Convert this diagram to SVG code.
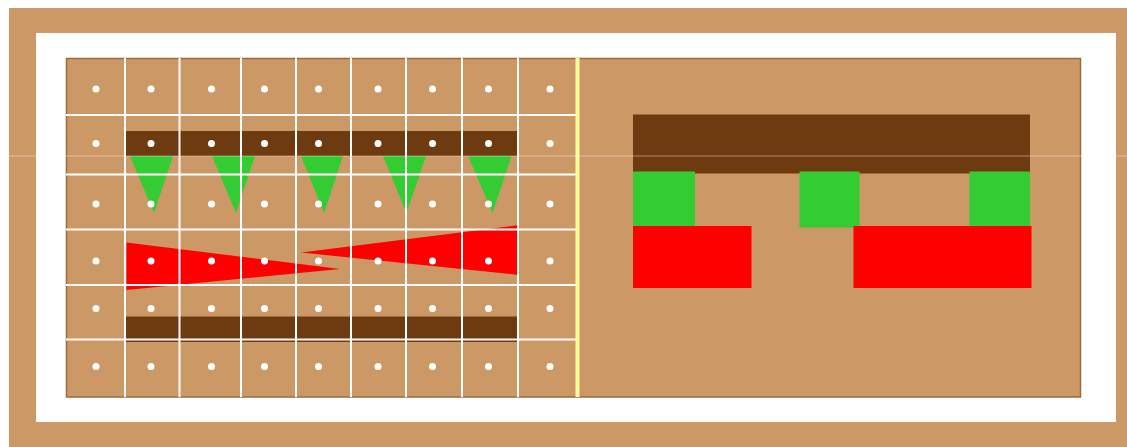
<svg xmlns="http://www.w3.org/2000/svg" width="1127" height="447" viewBox="0 0 1127 447">
<style>
.tan{fill:#CC9966}
.brown{fill:#6E3A0F}
.green{fill:#33CC33}
.red{fill:#FF0000}
.grid line{stroke:#FFFFFF;stroke-width:2}
.dots circle{fill:#FFFFFF}
</style>
<rect width="1127" height="447" fill="#FFFFFF"/>
<rect id="frame" x="9" y="8" width="1118" height="439" class="tan"/>
<rect id="mat" x="36" y="33" width="1080" height="389" fill="#FFFFFF"/>
<rect id="panel" x="66.5" y="58.5" width="1014" height="338.5" class="tan" stroke="#9C6A3C" stroke-width="1.5"/>
<g id="left-top-bar">
<rect x="126" y="131" width="391" height="25" class="brown"/>
</g>
<g id="left-green">
<polygon points="130,156 173,156 154,213" class="green"/>
<polygon points="212,156 255,156 236,213" class="green"/>
<polygon points="301,156 343,156 324,213" class="green"/>
<polygon points="383,156 426,156 406.5,213" class="green"/>
<polygon points="468,156 511.5,156 492.5,213" class="green"/>
</g>
<g id="left-red">
<polygon points="126.5,242.5 126.5,290 340,269" class="red"/>
<polygon points="519,225 519,275 301,252.5" class="red"/>
</g>
<g id="left-bottom-bar">
<rect x="126" y="316.5" width="391" height="25.5" class="brown"/>
</g>
<g id="grid" class="grid">
<line x1="125" y1="58" x2="125" y2="397"/>
<line x1="179.5" y1="58" x2="179.5" y2="397"/>
<line x1="241" y1="58" x2="241" y2="397"/>
<line x1="296" y1="58" x2="296" y2="397"/>
<line x1="351" y1="58" x2="351" y2="397"/>
<line x1="406" y1="58" x2="406" y2="397"/>
<line x1="462" y1="58" x2="462" y2="397"/>
<line x1="518" y1="58" x2="518" y2="397"/>
<line x1="66" y1="115" x2="578" y2="115"/>
<line x1="66" y1="174.5" x2="578" y2="174.5"/>
<line x1="66" y1="229.5" x2="578" y2="229.5"/>
<line x1="66" y1="285" x2="578" y2="285"/>
<line x1="66" y1="339.5" x2="578" y2="339.5"/>
</g>
<g id="dots" class="dots">
<circle cx="96" cy="89" r="3.5"/><circle cx="151" cy="89" r="3.5"/><circle cx="211.5" cy="89" r="3.5"/><circle cx="264.5" cy="89" r="3.5"/><circle cx="318.5" cy="89" r="3.5"/><circle cx="378" cy="89" r="3.5"/><circle cx="432.5" cy="89" r="3.5"/><circle cx="488.5" cy="89" r="3.5"/><circle cx="550" cy="89" r="3.5"/>
<circle cx="96" cy="143.5" r="3.5"/><circle cx="151" cy="143.5" r="3.5"/><circle cx="211.5" cy="143.5" r="3.5"/><circle cx="264.5" cy="143.5" r="3.5"/><circle cx="318.5" cy="143.5" r="3.5"/><circle cx="378" cy="143.5" r="3.5"/><circle cx="432.5" cy="143.5" r="3.5"/><circle cx="488.5" cy="143.5" r="3.5"/><circle cx="550" cy="143.5" r="3.5"/>
<circle cx="96" cy="204" r="3.5"/><circle cx="151" cy="204" r="3.5"/><circle cx="211.5" cy="204" r="3.5"/><circle cx="264.5" cy="204" r="3.5"/><circle cx="318.5" cy="204" r="3.5"/><circle cx="378" cy="204" r="3.5"/><circle cx="432.5" cy="204" r="3.5"/><circle cx="488.5" cy="204" r="3.5"/><circle cx="550" cy="204" r="3.5"/>
<circle cx="96" cy="261" r="3.5"/><circle cx="151" cy="261" r="3.5"/><circle cx="211.5" cy="261" r="3.5"/><circle cx="264.5" cy="261" r="3.5"/><circle cx="318.5" cy="261" r="3.5"/><circle cx="378" cy="261" r="3.5"/><circle cx="432.5" cy="261" r="3.5"/><circle cx="488.5" cy="261" r="3.5"/><circle cx="550" cy="261" r="3.5"/>
<circle cx="96" cy="308.5" r="3.5"/><circle cx="151" cy="308.5" r="3.5"/><circle cx="211.5" cy="308.5" r="3.5"/><circle cx="264.5" cy="308.5" r="3.5"/><circle cx="318.5" cy="308.5" r="3.5"/><circle cx="378" cy="308.5" r="3.5"/><circle cx="432.5" cy="308.5" r="3.5"/><circle cx="488.5" cy="308.5" r="3.5"/><circle cx="550" cy="308.5" r="3.5"/>
<circle cx="96" cy="366.5" r="3.5"/><circle cx="151" cy="366.5" r="3.5"/><circle cx="211.5" cy="366.5" r="3.5"/><circle cx="264.5" cy="366.5" r="3.5"/><circle cx="318.5" cy="366.5" r="3.5"/><circle cx="378" cy="366.5" r="3.5"/><circle cx="432.5" cy="366.5" r="3.5"/><circle cx="488.5" cy="366.5" r="3.5"/><circle cx="550" cy="366.5" r="3.5"/>
</g>
<rect id="divider" x="575.5" y="58" width="4" height="339" fill="#FFFF99"/>
<g id="right-shapes">
<rect x="633" y="114.5" width="397" height="59" class="brown"/>
<rect x="633" y="171.5" width="62" height="55" class="green"/>
<rect x="799.5" y="171.5" width="60" height="56" class="green"/>
<rect x="969.5" y="171.5" width="60.5" height="55" class="green"/>
<rect x="633" y="226" width="118.5" height="62" class="red"/>
<rect x="853.5" y="226" width="178" height="62" class="red"/>
</g>
<rect id="seam" x="0" y="155.5" width="1127" height="1" fill="#FFFFFF" opacity="0.4"/>
</svg>
